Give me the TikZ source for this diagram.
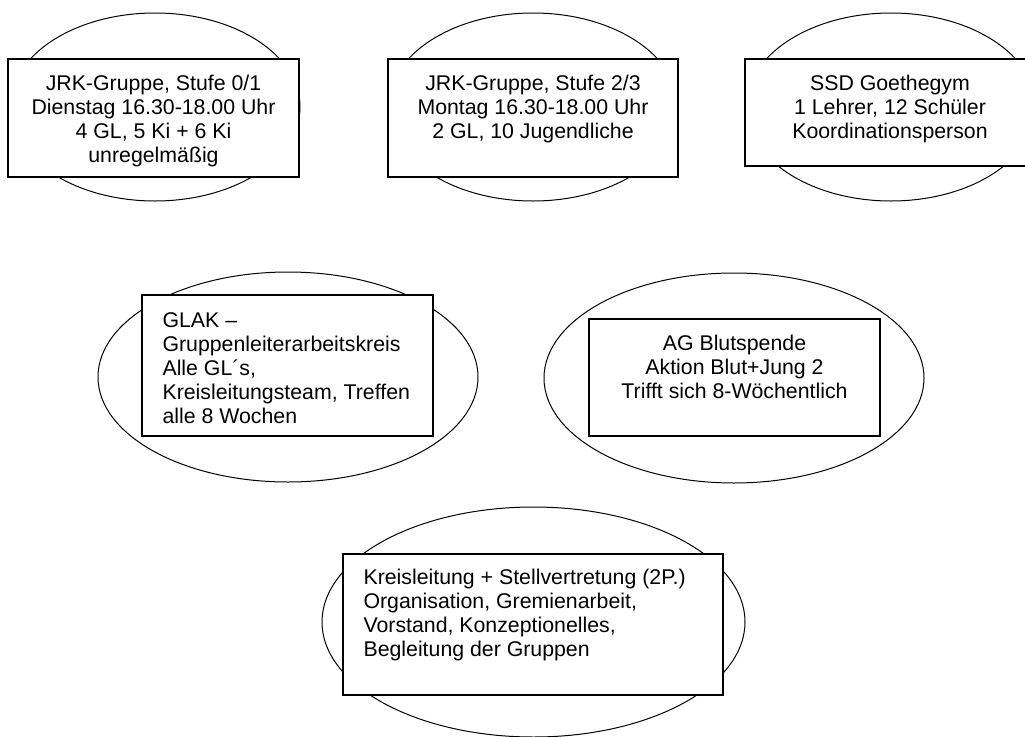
\documentclass[tikz,border=0pt]{standalone}
\usepackage{fontspec}
\setmainfont{Liberation Sans}
\usetikzlibrary{positioning}

\begin{document}
\begin{tikzpicture}[x=1pt,y=-1pt,
    oval/.style={draw=black,line width=1pt},
    box/.style={draw=black,line width=1.3pt,fill=white,inner sep=0pt},
    txt/.style={inner sep=0pt,font=\fontsize{21.3}{24}\selectfont}]
  \useasboundingbox (0,0) rectangle (1025,736);
  % obere Reihe
  \draw[oval] (155,107) ellipse [x radius=145pt, y radius=94pt];
  \draw[oval] (533,107) ellipse [x radius=145pt, y radius=94pt];
  \draw[oval] (891,107) ellipse [x radius=145pt, y radius=94pt];
  \node[box,minimum width=291pt,minimum height=118pt] (stufe01) at (153.5,118) {};
  \node[box,minimum width=290pt,minimum height=118pt] (stufe23) at (533,118) {};
  \node[box,minimum width=290pt,minimum height=107pt] (ssd) at (890,112.5) {};
  \node[txt,align=center,below=17pt of stufe01.north] (stufe01txt)
    {JRK-Gruppe, Stufe 0/1\\Dienstag 16.30-18.00 Uhr\\4 GL, 5 Ki + 6 Ki\\unregelmäßig};
  \node[txt,align=center,below=17pt of stufe23.north] (stufe23txt)
    {JRK-Gruppe, Stufe 2/3\\Montag 16.30-18.00 Uhr\\2 GL, 10 Jugendliche};
  \node[txt,align=center,below=17pt of ssd.north] (ssdtxt)
    {SSD Goethegym\\1 Lehrer, 12 Schüler\\Koordinationsperson};
  % mittlere Reihe
  \draw[oval] (288,377) ellipse [x radius=190pt, y radius=105pt];
  \draw[oval] (734,378) ellipse [x radius=190pt, y radius=105pt];
  \node[box,minimum width=291pt,minimum height=141pt] (glak) at (287.5,365.5) {};
  \node[box,minimum width=291pt,minimum height=117pt] (blut) at (734.5,377.5) {};
  \node[txt,align=left,below right=18pt and 21pt of glak.north west] (glaktxt)
    {GLAK –\\Gruppenleiterarbeitskreis\\Alle GL´s,\\Kreisleitungsteam, Treffen\\alle 8 Wochen};
  \node[txt,align=center,below=17pt of blut.north] (bluttxt)
    {AG Blutspende\\Aktion Blut+Jung 2\\Trifft sich 8-Wöchentlich};
  % unten
  \draw[oval] (533.5,622) ellipse [x radius=211.5pt, y radius=115pt];
  \node[box,minimum width=380pt,minimum height=141pt] (kreis) at (533,624.5) {};
  \node[txt,align=left,below right=16pt and 21pt of kreis.north west] (kreistxt)
    {Kreisleitung + Stellvertretung (2P.)\\Organisation, Gremienarbeit,\\Vorstand, Konzeptionelles,\\Begleitung der Gruppen};
\end{tikzpicture}
\end{document}
